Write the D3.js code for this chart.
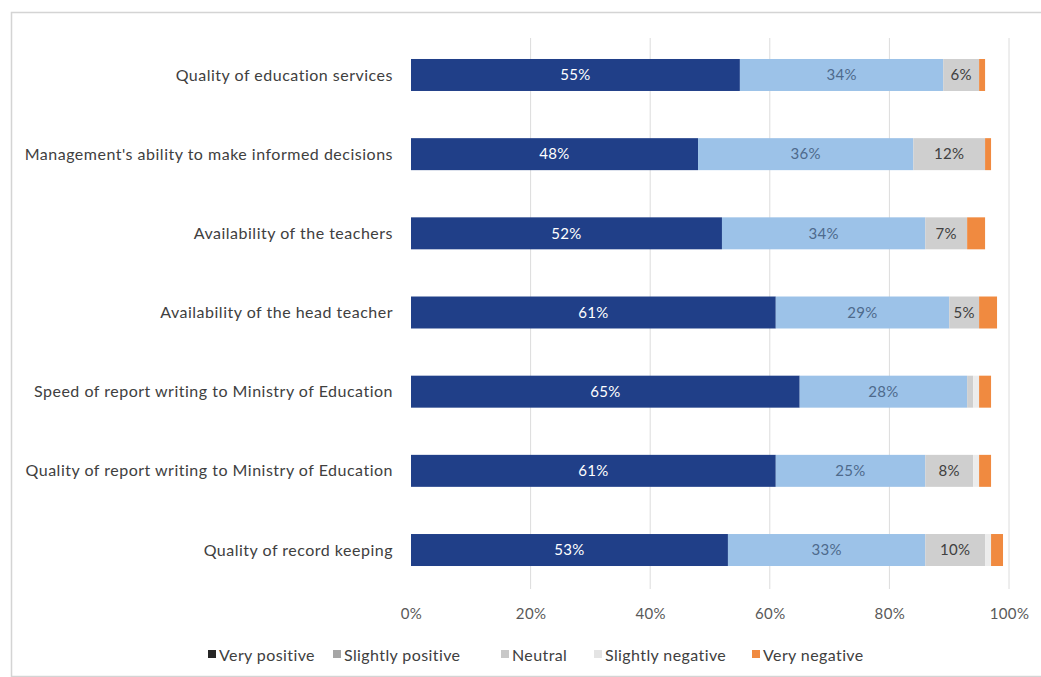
<!DOCTYPE html>
<html>
<head>
<meta charset="utf-8">
<script src="https://cdn.jsdelivr.net/npm/d3@7"></script>
<style>
  html, body { margin: 0; padding: 0; background: #fff; }
  svg { display: block; }
  text { font-family: Lato, "Open Sans", sans-serif; }
</style>
</head>
<body>
<svg id="chart" width="1041" height="677"></svg>
<script>
// Survey responses per aspect (percent of respondents)
const categories = [
  "Quality of education services",
  "Management's ability to make informed decisions",
  "Availability of the teachers",
  "Availability of the head teacher",
  "Speed of report writing to Ministry of Education",
  "Quality of report writing to Ministry of Education",
  "Quality of record keeping"
];
const seriesNames = ["Very positive", "Slightly positive", "Neutral", "Slightly negative", "Very negative"];
const veryPositive     = [55, 48, 52, 61, 65, 61, 53];
const slightlyPositive = [34, 36, 34, 29, 28, 25, 33];
const neutral          = [6, 12, 7, 5, 1, 8, 10];
const slightlyNegative = [0, 0, 0, 0, 1, 1, 1];
const veryNegative     = [1, 1, 3, 3, 2, 2, 2];
const tickValues = [0, 20, 40, 60, 80, 100];

const barColors    = ["#203f88", "#9cc2e8", "#cfcfcf", "#ececec", "#f08a40"];
const legendColors = ["#262626", "#a6a6a6", "#c8c8c8", "#e4e4e4", "#f08a40"];
const labelColors  = ["#ffffff", "#4e6a8c", "#404040", "#404040", "#404040"];

const seriesValues = [veryPositive, slightlyPositive, neutral, slightlyNegative, veryNegative];

const svg = d3.select("#chart");

// chart frame
svg.append("rect")
  .attr("x", 11.5).attr("y", 12.5)
  .attr("width", 1040).attr("height", 664)
  .attr("fill", "#fff").attr("stroke", "#d4d4d4").attr("stroke-width", 1.5);

const x = d3.scaleLinear().domain([0, 100]).range([411, 1009]);
const y = d3.scaleBand().domain(categories).range([35.4, 589.6]).paddingInner(0.596).paddingOuter(0.298);

// vertical gridlines
svg.append("g").selectAll("line")
  .data(tickValues.slice(1))
  .join("line")
  .attr("x1", d => x(d)).attr("x2", d => x(d))
  .attr("y1", 38).attr("y2", 589)
  .attr("stroke", "#dcdcdc").attr("stroke-width", 1);

// stacked layout
const rows = categories.map((c, i) => {
  const row = { category: c };
  seriesNames.forEach((s, k) => { row[s] = seriesValues[k][i]; });
  return row;
});
const stacked = d3.stack().keys(seriesNames)(rows);

const groups = svg.append("g").selectAll("g")
  .data(stacked)
  .join("g")
  .attr("fill", (d, k) => barColors[k]);

groups.selectAll("rect")
  .data(d => d.map(p => ({ p, key: d.key })))
  .join("rect")
  .attr("x", d => x(d.p[0]))
  .attr("y", d => y(d.p.data.category))
  .attr("width", d => Math.max(0, x(d.p[1]) - x(d.p[0])))
  .attr("height", y.bandwidth());

// value labels
stacked.forEach((layer, k) => {
  svg.append("g").selectAll("text")
    .data(layer.filter(p => (p[1] - p[0]) >= 5))
    .join("text")
    .attr("x", p => (x(p[0]) + x(p[1])) / 2)
    .attr("y", p => y(p.data.category) + y.bandwidth() / 2)
    .attr("dy", "0.35em")
    .attr("text-anchor", "middle")
    .attr("font-size", 15)
    .attr("letter-spacing", 0.3)
    .attr("fill", labelColors[k])
    .text(p => (p[1] - p[0]) + "%");
});

// category axis labels
svg.append("g").selectAll("text")
  .data(categories)
  .join("text")
  .attr("x", 393)
  .attr("y", d => y(d) + y.bandwidth() / 2)
  .attr("dy", "0.35em")
  .attr("text-anchor", "end")
  .attr("font-size", 16)
  .attr("letter-spacing", 0.5)
  .attr("fill", "#404040")
  .text(d => d);

// value axis
const xAxis = d3.axisBottom(x).tickValues(tickValues).tickFormat(d => d + "%").tickSize(0).tickPadding(0);
const ax = svg.append("g").attr("transform", "translate(0,608)").call(xAxis);
ax.select(".domain").remove();
ax.selectAll("text")
  .attr("font-family", "Lato, 'Open Sans', sans-serif")
  .attr("font-size", 15)
  .attr("letter-spacing", 0.4)
  .attr("fill", "#595959");

// legend
const legendX = [208, 333, 501, 594, 752];
const legend = svg.append("g").selectAll("g")
  .data(seriesNames)
  .join("g")
  .attr("transform", (d, i) => `translate(${legendX[i]},655)`);
legend.append("rect")
  .attr("x", 0).attr("y", -5).attr("width", 8).attr("height", 8)
  .attr("fill", (d, i) => legendColors[i]);
legend.append("text")
  .attr("x", 11).attr("y", 0)
  .attr("dy", "0.35em")
  .attr("font-size", 16)
  .attr("letter-spacing", 0.4)
  .attr("fill", "#404040")
  .text(d => d);
</script>
</body>
</html>
